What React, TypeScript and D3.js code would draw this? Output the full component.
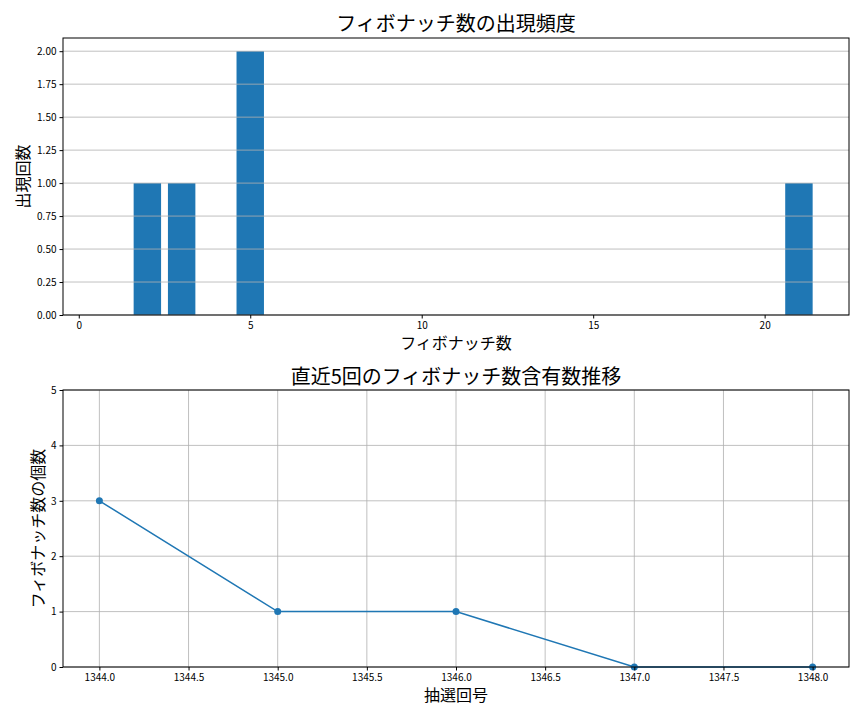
import { useEffect, useRef } from 'react';
import * as d3 from 'd3';

// top chart: occurrence counts per Fibonacci number
const fibNumbers = [2, 3, 5, 21];
const fibCounts = [1, 1, 2, 1];
const topXTicks = [0, 5, 10, 15, 20];
const topYTicks = [0, 0.25, 0.5, 0.75, 1.0, 1.25, 1.5, 1.75, 2.0];

// bottom chart: Fibonacci count per draw
const drawNumbers = [1344, 1345, 1346, 1347, 1348];
const fibPerDraw = [3, 1, 1, 0, 0];
const bottomXTicks = [1344, 1344.5, 1345, 1345.5, 1346, 1346.5, 1347, 1347.5, 1348];
const bottomYTicks = [0, 1, 2, 3, 4, 5];

const FONT = '"Noto Sans CJK JP", "Noto Sans", sans-serif';
const BLUE = '#1f77b4';

export default function App() {
  const ref = useRef<SVGSVGElement>(null);

  useEffect(() => {
    if (!ref.current) return;
    const svg = d3.select(ref.current);
    svg.selectAll('*').remove();

    const left = 63;
    const right = 849;

    // ---------- top bar chart ----------
    const t = { top: 38, bottom: 315 };
    const x1 = d3.scaleLinear().domain([-0.46, 22.46]).range([left, right]);
    const y1 = d3.scaleLinear().domain([0, 2.1]).range([t.bottom, t.top]);

    const g1 = svg.append('g');

    g1.selectAll('rect.bar')
      .data(fibNumbers)
      .enter()
      .append('rect')
      .attr('class', 'bar')
      .attr('x', (d) => x1(d - 0.4))
      .attr('width', (d) => x1(d + 0.4) - x1(d - 0.4))
      .attr('y', (_, i) => y1(fibCounts[i]))
      .attr('height', (_, i) => y1(0) - y1(fibCounts[i]))
      .attr('fill', BLUE);

    // horizontal grid drawn on top of the bars
    g1.selectAll('line.grid')
      .data(topYTicks)
      .enter()
      .append('line')
      .attr('x1', left)
      .attr('x2', right)
      .attr('y1', (d) => y1(d))
      .attr('y2', (d) => y1(d))
      .attr('stroke', '#b0b0b0')
      .attr('stroke-opacity', 0.8)
      .attr('stroke-width', 1);

    const xa1 = g1
      .append('g')
      .attr('transform', `translate(0,${t.bottom})`)
      .call(d3.axisBottom(x1).tickValues(topXTicks).tickSize(3.5).tickPadding(3).tickFormat(d3.format('d')));
    const ya1 = g1
      .append('g')
      .attr('transform', `translate(${left},0)`)
      .call(d3.axisLeft(y1).tickValues(topYTicks).tickSize(3.5).tickPadding(3).tickFormat(d3.format('.2f')));

    [xa1, ya1].forEach((a) => {
      a.select('.domain').remove();
      a.selectAll('text').attr('font-family', FONT).attr('font-size', 10).attr('fill', '#000');
      a.selectAll('line').attr('stroke', '#000');
    });

    g1.append('rect')
      .attr('x', left)
      .attr('y', t.top)
      .attr('width', right - left)
      .attr('height', t.bottom - t.top)
      .attr('fill', 'none')
      .attr('stroke', '#000')
      .attr('stroke-width', 1);

    g1.append('text')
      .attr('x', (left + right) / 2)
      .attr('y', 31)
      .attr('text-anchor', 'middle')
      .attr('font-family', FONT)
      .attr('font-size', 20)
      .text('フィボナッチ数の出現頻度');

    g1.append('text')
      .attr('x', (left + right) / 2)
      .attr('y', 349)
      .attr('text-anchor', 'middle')
      .attr('font-family', FONT)
      .attr('font-size', 16)
      .text('フィボナッチ数');

    g1.append('text')
      .attr('transform', `translate(29,${(t.top + t.bottom) / 2}) rotate(-90)`)
      .attr('text-anchor', 'middle')
      .attr('font-family', FONT)
      .attr('font-size', 16)
      .text('出現回数');

    // ---------- bottom line chart ----------
    const b = { top: 390, bottom: 667 };
    const x2 = d3.scaleLinear().domain([1343.796, 1348.204]).range([left, right]);
    const y2 = d3.scaleLinear().domain([0, 5]).range([b.bottom, b.top]);

    const g2 = svg.append('g');

    g2.selectAll('line.vgrid')
      .data(bottomXTicks)
      .enter()
      .append('line')
      .attr('x1', (d) => x2(d))
      .attr('x2', (d) => x2(d))
      .attr('y1', b.top)
      .attr('y2', b.bottom)
      .attr('stroke', '#b0b0b0')
      .attr('stroke-width', 0.8);

    g2.selectAll('line.hgrid')
      .data(bottomYTicks)
      .enter()
      .append('line')
      .attr('x1', left)
      .attr('x2', right)
      .attr('y1', (d) => y2(d))
      .attr('y2', (d) => y2(d))
      .attr('stroke', '#b0b0b0')
      .attr('stroke-width', 0.8);

    const line = d3
      .line<number>()
      .x((_, i) => x2(drawNumbers[i]))
      .y((d) => y2(d));

    g2.append('path')
      .datum(fibPerDraw)
      .attr('d', line)
      .attr('fill', 'none')
      .attr('stroke', BLUE)
      .attr('stroke-width', 1.5);

    g2.selectAll('circle')
      .data(fibPerDraw)
      .enter()
      .append('circle')
      .attr('cx', (_, i) => x2(drawNumbers[i]))
      .attr('cy', (d) => y2(d))
      .attr('r', 3.5)
      .attr('fill', BLUE);

    const xa2 = g2
      .append('g')
      .attr('transform', `translate(0,${b.bottom})`)
      .call(d3.axisBottom(x2).tickValues(bottomXTicks).tickSize(3.5).tickPadding(3).tickFormat(d3.format('.1f')));
    const ya2 = g2
      .append('g')
      .attr('transform', `translate(${left},0)`)
      .call(d3.axisLeft(y2).tickValues(bottomYTicks).tickSize(3.5).tickPadding(3).tickFormat(d3.format('d')));

    [xa2, ya2].forEach((a) => {
      a.select('.domain').remove();
      a.selectAll('text').attr('font-family', FONT).attr('font-size', 10).attr('fill', '#000');
      a.selectAll('line').attr('stroke', '#000');
    });

    g2.append('rect')
      .attr('x', left)
      .attr('y', b.top)
      .attr('width', right - left)
      .attr('height', b.bottom - b.top)
      .attr('fill', 'none')
      .attr('stroke', '#000')
      .attr('stroke-width', 1);

    g2.append('text')
      .attr('x', (left + right) / 2)
      .attr('y', 384)
      .attr('text-anchor', 'middle')
      .attr('font-family', FONT)
      .attr('font-size', 20)
      .text('直近5回のフィボナッチ数含有数推移');

    g2.append('text')
      .attr('x', (left + right) / 2)
      .attr('y', 701)
      .attr('text-anchor', 'middle')
      .attr('font-family', FONT)
      .attr('font-size', 16)
      .text('抽選回号');

    g2.append('text')
      .attr('transform', `translate(44,${(b.top + b.bottom) / 2}) rotate(-90)`)
      .attr('text-anchor', 'middle')
      .attr('font-family', FONT)
      .attr('font-size', 16)
      .text('フィボナッチ数の個数');
  }, []);

  return (
    <svg
      ref={ref}
      width={864}
      height={720}
      style={{ position: 'absolute', left: 0, top: 0, background: '#fff' }}
    />
  );
}
